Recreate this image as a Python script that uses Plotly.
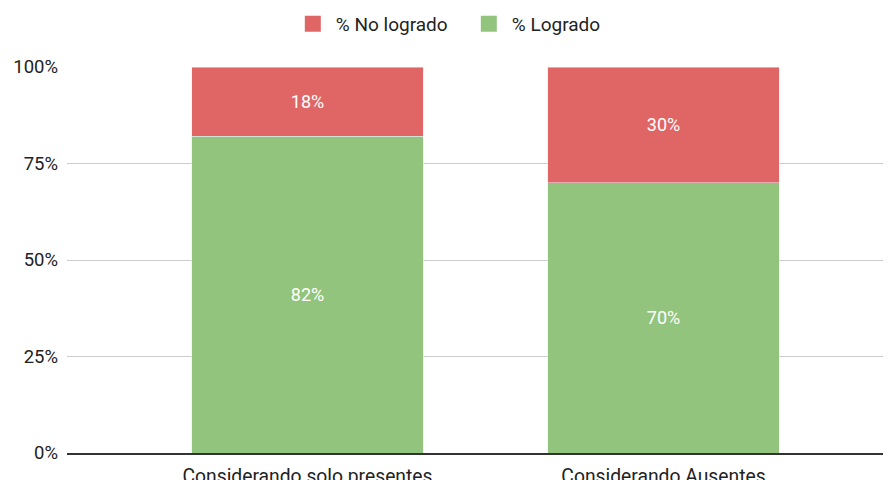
import plotly.graph_objects as go

categories = ["Considerando solo presentes", "Considerando Ausentes"]
no_logrado = [18, 30]
logrado = [82, 70]
tick_vals = [0, 25, 50, 75, 100]
tick_text = ["0%", "25%", "50%", "75%", "100%"]

RED = "#e06666"
GREEN = "#93c47d"
FONT = "Roboto"

# page body has an 8px margin; compensate so the plot lands where the reference has it
W, H = 883, 472

fig = go.Figure()
fig.add_trace(go.Bar(
    name="% Logrado", x=categories, y=logrado, marker_color=GREEN,
    text=[f"{v}%" for v in logrado], textposition="inside", insidetextanchor="middle",
    textfont=dict(color="white", size=18, family=FONT), showlegend=False,
))
fig.add_trace(go.Bar(
    name="% No logrado", x=categories, y=no_logrado, marker_color=RED,
    text=[f"{v}%" for v in no_logrado], textposition="inside", insidetextanchor="middle",
    textfont=dict(color="white", size=18, family=FONT), showlegend=False,
))
# legend entries (square swatches) in reference order
for nm, col in [("% No logrado", RED), ("% Logrado", GREEN)]:
    fig.add_trace(go.Scatter(name=nm, x=[None], y=[None], mode="markers",
                             marker=dict(symbol="square", size=22, color=col)))

fig.update_layout(
    barmode="stack",
    bargap=0.35,
    width=W, height=H,
    margin=dict(l=59, r=0, t=59, b=27, autoexpand=False),
    plot_bgcolor="white", paper_bgcolor="white",
    font=dict(family=FONT, size=18, color="#222222"),
    legend=dict(orientation="h", x=0.484, xanchor="center", y=1 - 16 / H, yanchor="middle",
                yref="container", font=dict(size=19, family=FONT),
                traceorder="normal", itemsizing="trace", itemwidth=36,
                entrywidth=125),
    uniformtext=dict(mode=False),
)
fig.update_xaxes(
    range=[(67 - 307.5) / 356, (891 - 307.5) / 356], automargin=False,
    showgrid=False, showline=True, linecolor="#333333", linewidth=1.5,
    ticks="", ticklabelstandoff=5,
    tickfont=dict(size=19.3, family=FONT, color="#222222"),
)
fig.update_yaxes(
    range=[0, 100], tickvals=tick_vals, ticktext=tick_text, automargin=False,
    showgrid=True, gridcolor="#cccccc", gridwidth=1, zeroline=False,
    ticks="", ticklabelstandoff=8, tickfont=dict(size=18.5, family=FONT, color="#222222"),
)
fig.write_html("out.html")
